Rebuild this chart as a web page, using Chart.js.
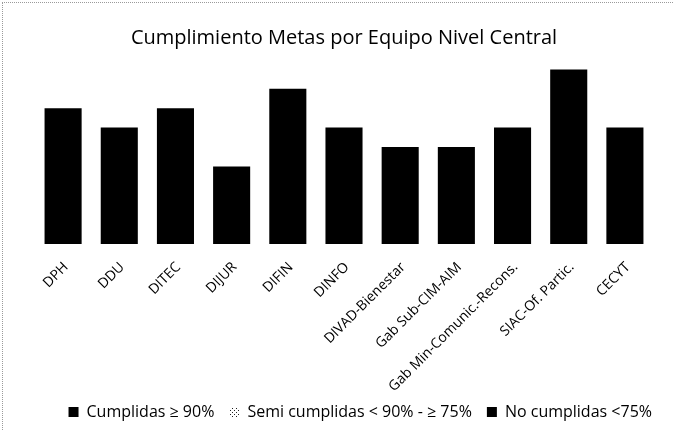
<!DOCTYPE html>
<html>
<head>
<meta charset="utf-8">
<script src="https://cdn.jsdelivr.net/npm/chart.js@4/dist/chart.umd.min.js"></script>
<style>
  html, body { margin: 0; padding: 0; background: #fff; }
  #wrap { position: relative; width: 673px; height: 430px; }
  #frame { position: absolute; left: 2px; top: 2px; right: 0; bottom: 0;
           border-top: 1px dotted #9a9a9a; border-left: 1px dotted #9a9a9a; pointer-events: none; }
</style>
</head>
<body>
<div id="wrap">
  <canvas id="c" width="673" height="430"></canvas>
  <div id="frame"></div>
</div>
<script>
const categories = ["DPH", "DDU", "DITEC", "DIJUR", "DIFIN", "DINFO", "DIVAD-Bienestar",
  "Gab Sub-CIM-AIM", "Gab Min-Comunic.-Recons.", "SIAC-Of. Partic.", "CECYT"];
const cumplidas = [7, 6, 7, 4, 8, 6, 5, 5, 6, 9, 6];
const semiCumplidas = [0, 0, 0, 0, 0, 0, 0, 0, 0, 0, 0];
const noCumplidas = [0, 0, 0, 0, 0, 0, 0, 0, 0, 0, 0];
const seriesNames = ["Cumplidas \u2265 90%", "Semi cumplidas < 90% - \u2265 75%", "No cumplidas <75%"];
const titleText = "Cumplimiento Metas por Equipo Nivel Central";

// dotted pattern for the "semi" series
const pc = document.createElement('canvas');
pc.width = 4; pc.height = 4;
const pctx = pc.getContext('2d');
pctx.fillStyle = '#fff'; pctx.fillRect(0, 0, 4, 4);
pctx.fillStyle = '#222'; pctx.fillRect(0, 0, 1, 1); pctx.fillRect(2, 2, 1, 1);
const dotted = document.createElement('canvas').getContext('2d').createPattern(pc, 'repeat');

const FONT = "'Open Sans', sans-serif";

const shiftLegend = {
  id: 'shiftLegend',
  afterLayout(chart) {
    const lg = chart.legend;
    if (lg) { lg.left += 14; lg.right += 14; lg.top -= 8; lg.bottom -= 8; }
  }
};

new Chart(document.getElementById('c'), {
  type: 'bar',
  data: {
    labels: categories,
    datasets: [
      { label: seriesNames[0], data: cumplidas, backgroundColor: '#000', borderWidth: 0 },
      { label: seriesNames[1], data: semiCumplidas, backgroundColor: dotted, borderWidth: 0 },
      { label: seriesNames[2], data: noCumplidas, backgroundColor: '#000', borderWidth: 0 }
    ]
  },
  plugins: [shiftLegend],
  options: {
    responsive: false,
    animation: false,
    devicePixelRatio: 1,
    layout: { padding: { left: 35, right: 20, top: 16, bottom: -8 } },
    datasets: { bar: { categoryPercentage: 0.66, barPercentage: 1.0 } },
    scales: {
      x: {
        stacked: true,
        grid: { display: false, drawTicks: false },
        border: { display: false },
        afterFit(scale) { scale.height = 153; },
        ticks: { color: '#000', font: { family: FONT, size: 14 }, minRotation: 45, maxRotation: 45, padding: 15, labelOffset: 3, autoSkip: false }
      },
      y: {
        stacked: true,
        display: false,
        min: 0, max: 10
      }
    },
    plugins: {
      title: {
        display: true, text: titleText, color: '#000',
        font: { family: FONT, size: 20, weight: 'normal' },
        padding: { top: 10, bottom: 0 }
      },
      legend: {
        position: 'bottom', align: 'end',
        labels: { color: '#000', font: { family: FONT, size: 16 }, boxWidth: 10, boxHeight: 10, padding: 15 }
      },
      tooltip: { enabled: false }
    }
  }
});
</script>
</body>
</html>
